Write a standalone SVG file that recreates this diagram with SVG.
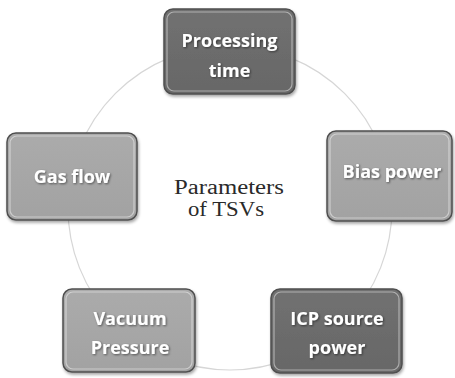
<svg xmlns="http://www.w3.org/2000/svg" width="455" height="378" viewBox="0 0 455 378">
<defs>
<filter id="boxShadow" x="-10%" y="-10%" width="125%" height="130%">
<feDropShadow dx="1" dy="2" stdDeviation="1.5" flood-color="#000" flood-opacity="0.35"/>
</filter>
<filter id="txtShadow" x="-10%" y="-20%" width="120%" height="150%">
<feDropShadow dx="1" dy="1" stdDeviation="0.9" flood-color="#000" flood-opacity="0.5"/>
</filter>
<linearGradient id="gLight" x1="0" y1="0" x2="0" y2="1">
<stop offset="0" stop-color="#ababab"/>
<stop offset="1" stop-color="#a2a2a2"/>
</linearGradient>
<linearGradient id="gDark" x1="0" y1="0" x2="0" y2="1">
<stop offset="0" stop-color="#717171"/>
<stop offset="1" stop-color="#676767"/>
</linearGradient>
</defs>
<style>
.box{stroke:#4f4f4f;stroke-width:1.5;filter:url(#boxShadow)}
.light{fill:url(#gLight)}
.dark{fill:url(#gDark)}
.hl{fill:none;stroke:#ffffff;stroke-opacity:0.45;stroke-width:1.2}
.lbl{font-family:"Open Sans","DejaVu Sans",sans-serif;font-weight:bold;font-size:18px;fill:#ffffff;text-anchor:middle;filter:url(#txtShadow)}
.ctr{font-family:"Liberation Serif","Times New Roman",serif;font-size:20px;fill:#2a2a2a;text-anchor:middle}
.ring{fill:none;stroke:#d6d6d6;stroke-width:1.2}
</style>
<rect width="455" height="378" fill="#ffffff"/>
<g id="connectors">
<circle class="ring" cx="230" cy="208" r="162"/>
</g>
<g id="center-label">
<text class="ctr" x="229" y="194" textLength="110" lengthAdjust="spacingAndGlyphs">Parameters</text>
<text class="ctr" x="226" y="216" textLength="76" lengthAdjust="spacingAndGlyphs">of TSVs</text>
</g>
<g id="node-processing-time">
<rect class="box dark" x="164" y="9" width="131" height="85" rx="9"/>
<rect class="hl" x="167" y="12" width="125" height="79" rx="7"/>
<text class="lbl" x="229.5" y="47">Processing</text>
<text class="lbl" x="229.5" y="77">time</text>
</g>
<g id="node-bias-power">
<rect class="box light" x="327" y="131" width="125" height="90" rx="9"/>
<rect class="hl" x="330" y="134" width="119" height="84" rx="7"/>
<text class="lbl" x="392" y="178">Bias power</text>
</g>
<g id="node-icp-source-power">
<rect class="box dark" x="271" y="289" width="131" height="84" rx="9"/>
<rect class="hl" x="274" y="292" width="125" height="78" rx="7"/>
<text class="lbl" x="337" y="325">ICP source</text>
<text class="lbl" x="337" y="354">power</text>
</g>
<g id="node-vacuum-pressure">
<rect class="box light" x="63" y="289" width="132" height="83" rx="9"/>
<rect class="hl" x="66" y="292" width="126" height="77" rx="7"/>
<text class="lbl" x="130" y="325">Vacuum</text>
<text class="lbl" x="130" y="354">Pressure</text>
</g>
<g id="node-gas-flow">
<rect class="box light" x="7" y="133" width="130" height="87" rx="9"/>
<rect class="hl" x="10" y="136" width="124" height="81" rx="7"/>
<text class="lbl" x="72" y="183">Gas flow</text>
</g>
</svg>
